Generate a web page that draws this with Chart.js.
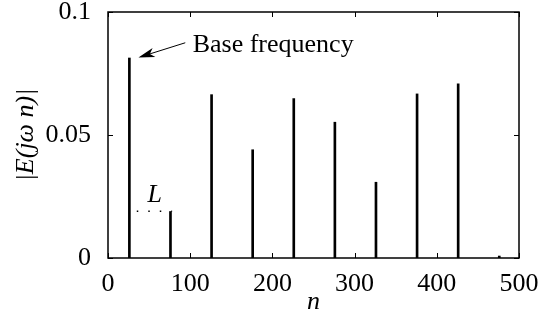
<!DOCTYPE html>
<html>
<head>
<meta charset="utf-8">
<script src="https://cdn.jsdelivr.net/npm/chart.js@4.4.0/dist/chart.umd.min.js"></script>
<style>
  html, body { margin: 0; padding: 0; background: #fff; }
  #wrap { width: 547px; height: 327px; }
</style>
</head>
<body>
<div id="wrap"><canvas id="spectrum-chart"></canvas></div>
<script>
// harmonic index n and spectrum magnitude |E(jw n)|
const harmonics = [26, 76, 126, 176, 226, 276, 326, 376, 426, 476];
const magnitudes = [0.0813, 0.0189, 0.0664, 0.0440, 0.0648, 0.0552, 0.0308, 0.0667, 0.0708, 0.0008];
const xTicks = [0, 100, 200, 300, 400, 500];
const yTicks = [0, 0.05, 0.1];
const lWidthN = [35, 78];
const lLevel = 0.019;

const serif = '"Liberation Serif", "DejaVu Serif", serif';
const fs = 26;

const spikeData = harmonics.map((n, i) => ({ x: n, y: magnitudes[i] }));
const lLine = lWidthN.map(n => ({ x: n, y: lLevel }));

// box, inward ticks and the annotations (arrow, L)
const frameAndNotes = {
  id: 'frameAndNotes',
  afterDatasetsDraw(chart) {
    const { ctx, chartArea: a, scales: { x, y } } = chart;
    ctx.save();
    ctx.strokeStyle = '#000';
    ctx.lineWidth = 1.5;
    ctx.strokeRect(a.left, a.top, a.right - a.left, a.bottom - a.top);
    ctx.lineWidth = 1;
    const tl = 5;
    ctx.beginPath();
    xTicks.forEach(v => {
      const px = Math.round(x.getPixelForValue(v)) + 0.5;
      ctx.moveTo(px, a.bottom); ctx.lineTo(px, a.bottom - tl);
      ctx.moveTo(px, a.top); ctx.lineTo(px, a.top + tl);
    });
    yTicks.forEach(v => {
      const py = Math.round(y.getPixelForValue(v)) + 0.5;
      ctx.moveTo(a.left, py); ctx.lineTo(a.left + tl, py);
      ctx.moveTo(a.right, py); ctx.lineTo(a.right - tl, py);
    });
    ctx.stroke();

    // arrow to base frequency
    const tipX = x.getPixelForValue(37), tipY = y.getPixelForValue(0.0815);
    const tailX = x.getPixelForValue(94), tailY = y.getPixelForValue(0.0875);
    const ang = Math.atan2(tipY - tailY, tipX - tailX);
    ctx.beginPath();
    ctx.moveTo(tailX, tailY);
    ctx.lineTo(tipX - 10 * Math.cos(ang), tipY - 10 * Math.sin(ang));
    ctx.stroke();
    ctx.beginPath();
    ctx.moveTo(tipX, tipY);
    ctx.lineTo(tipX - 17 * Math.cos(ang - 0.28), tipY - 17 * Math.sin(ang - 0.28));
    ctx.lineTo(tipX - 12 * Math.cos(ang), tipY - 12 * Math.sin(ang));
    ctx.lineTo(tipX - 17 * Math.cos(ang + 0.28), tipY - 17 * Math.sin(ang + 0.28));
    ctx.closePath();
    ctx.fillStyle = '#000';
    ctx.fill();

    ctx.fillStyle = '#000';
    ctx.textBaseline = 'middle';
    ctx.textAlign = 'left';
    ctx.font = fs + 'px ' + serif;
    ctx.fillText('Base frequency', x.getPixelForValue(103), y.getPixelForValue(0.0865));
    ctx.textAlign = 'center';
    ctx.font = 'italic ' + fs + 'px ' + serif;
    ctx.fillText('L', x.getPixelForValue(57), y.getPixelForValue(0.0255));
    ctx.restore();
  }
};

new Chart(document.getElementById('spectrum-chart'), {
  type: 'bar',
  data: {
    datasets: [{
      type: 'bar',
      data: spikeData,
      backgroundColor: '#000',
      barThickness: 2,
      borderWidth: 0
    }, {
      type: 'line',
      data: lLine,
      borderColor: '#000',
      borderWidth: 1.5,
      borderDash: [1.5, 10],
      pointRadius: 0,
      fill: false
    }]
  },
  options: {
    responsive: true,
    maintainAspectRatio: false,
    animation: false,
    layout: { padding: { top: 12, right: 28, left: 0, bottom: 0 } },
    plugins: { legend: { display: false }, tooltip: { enabled: false } },
    scales: {
      x: {
        type: 'linear',
        min: 0, max: 500,
        offset: false,
        grid: { display: false },
        border: { display: false },
        afterBuildTicks: s => { s.ticks = xTicks.map(v => ({ value: v })); },
        afterFit: s => { s.height = 69; s.paddingLeft = 0; s.paddingRight = 0; },
        ticks: { color: '#000', padding: 3, maxRotation: 0, font: { family: serif, size: fs } },
        title: { display: true, text: 'n', color: '#000', padding: { top: 20, bottom: 9 }, font: { family: serif, size: fs, style: 'italic' } }
      },
      y: {
        min: 0, max: 0.1,
        grid: { display: false },
        border: { display: false },
        afterBuildTicks: s => { s.ticks = yTicks.map(v => ({ value: v })); },
        afterFit: s => { s.width = 108; s.paddingTop = 0; s.paddingBottom = 0; },
        ticks: { color: '#000', padding: 9, font: { family: serif, size: fs }, callback: v => String(v) },
        title: { display: true, text: '|E(jω n)|', color: '#000', padding: { top: 11, bottom: 0 }, font: { family: serif, size: fs, style: 'italic' } }
      }
    }
  },
  plugins: [frameAndNotes]
});
</script>
</body>
</html>
